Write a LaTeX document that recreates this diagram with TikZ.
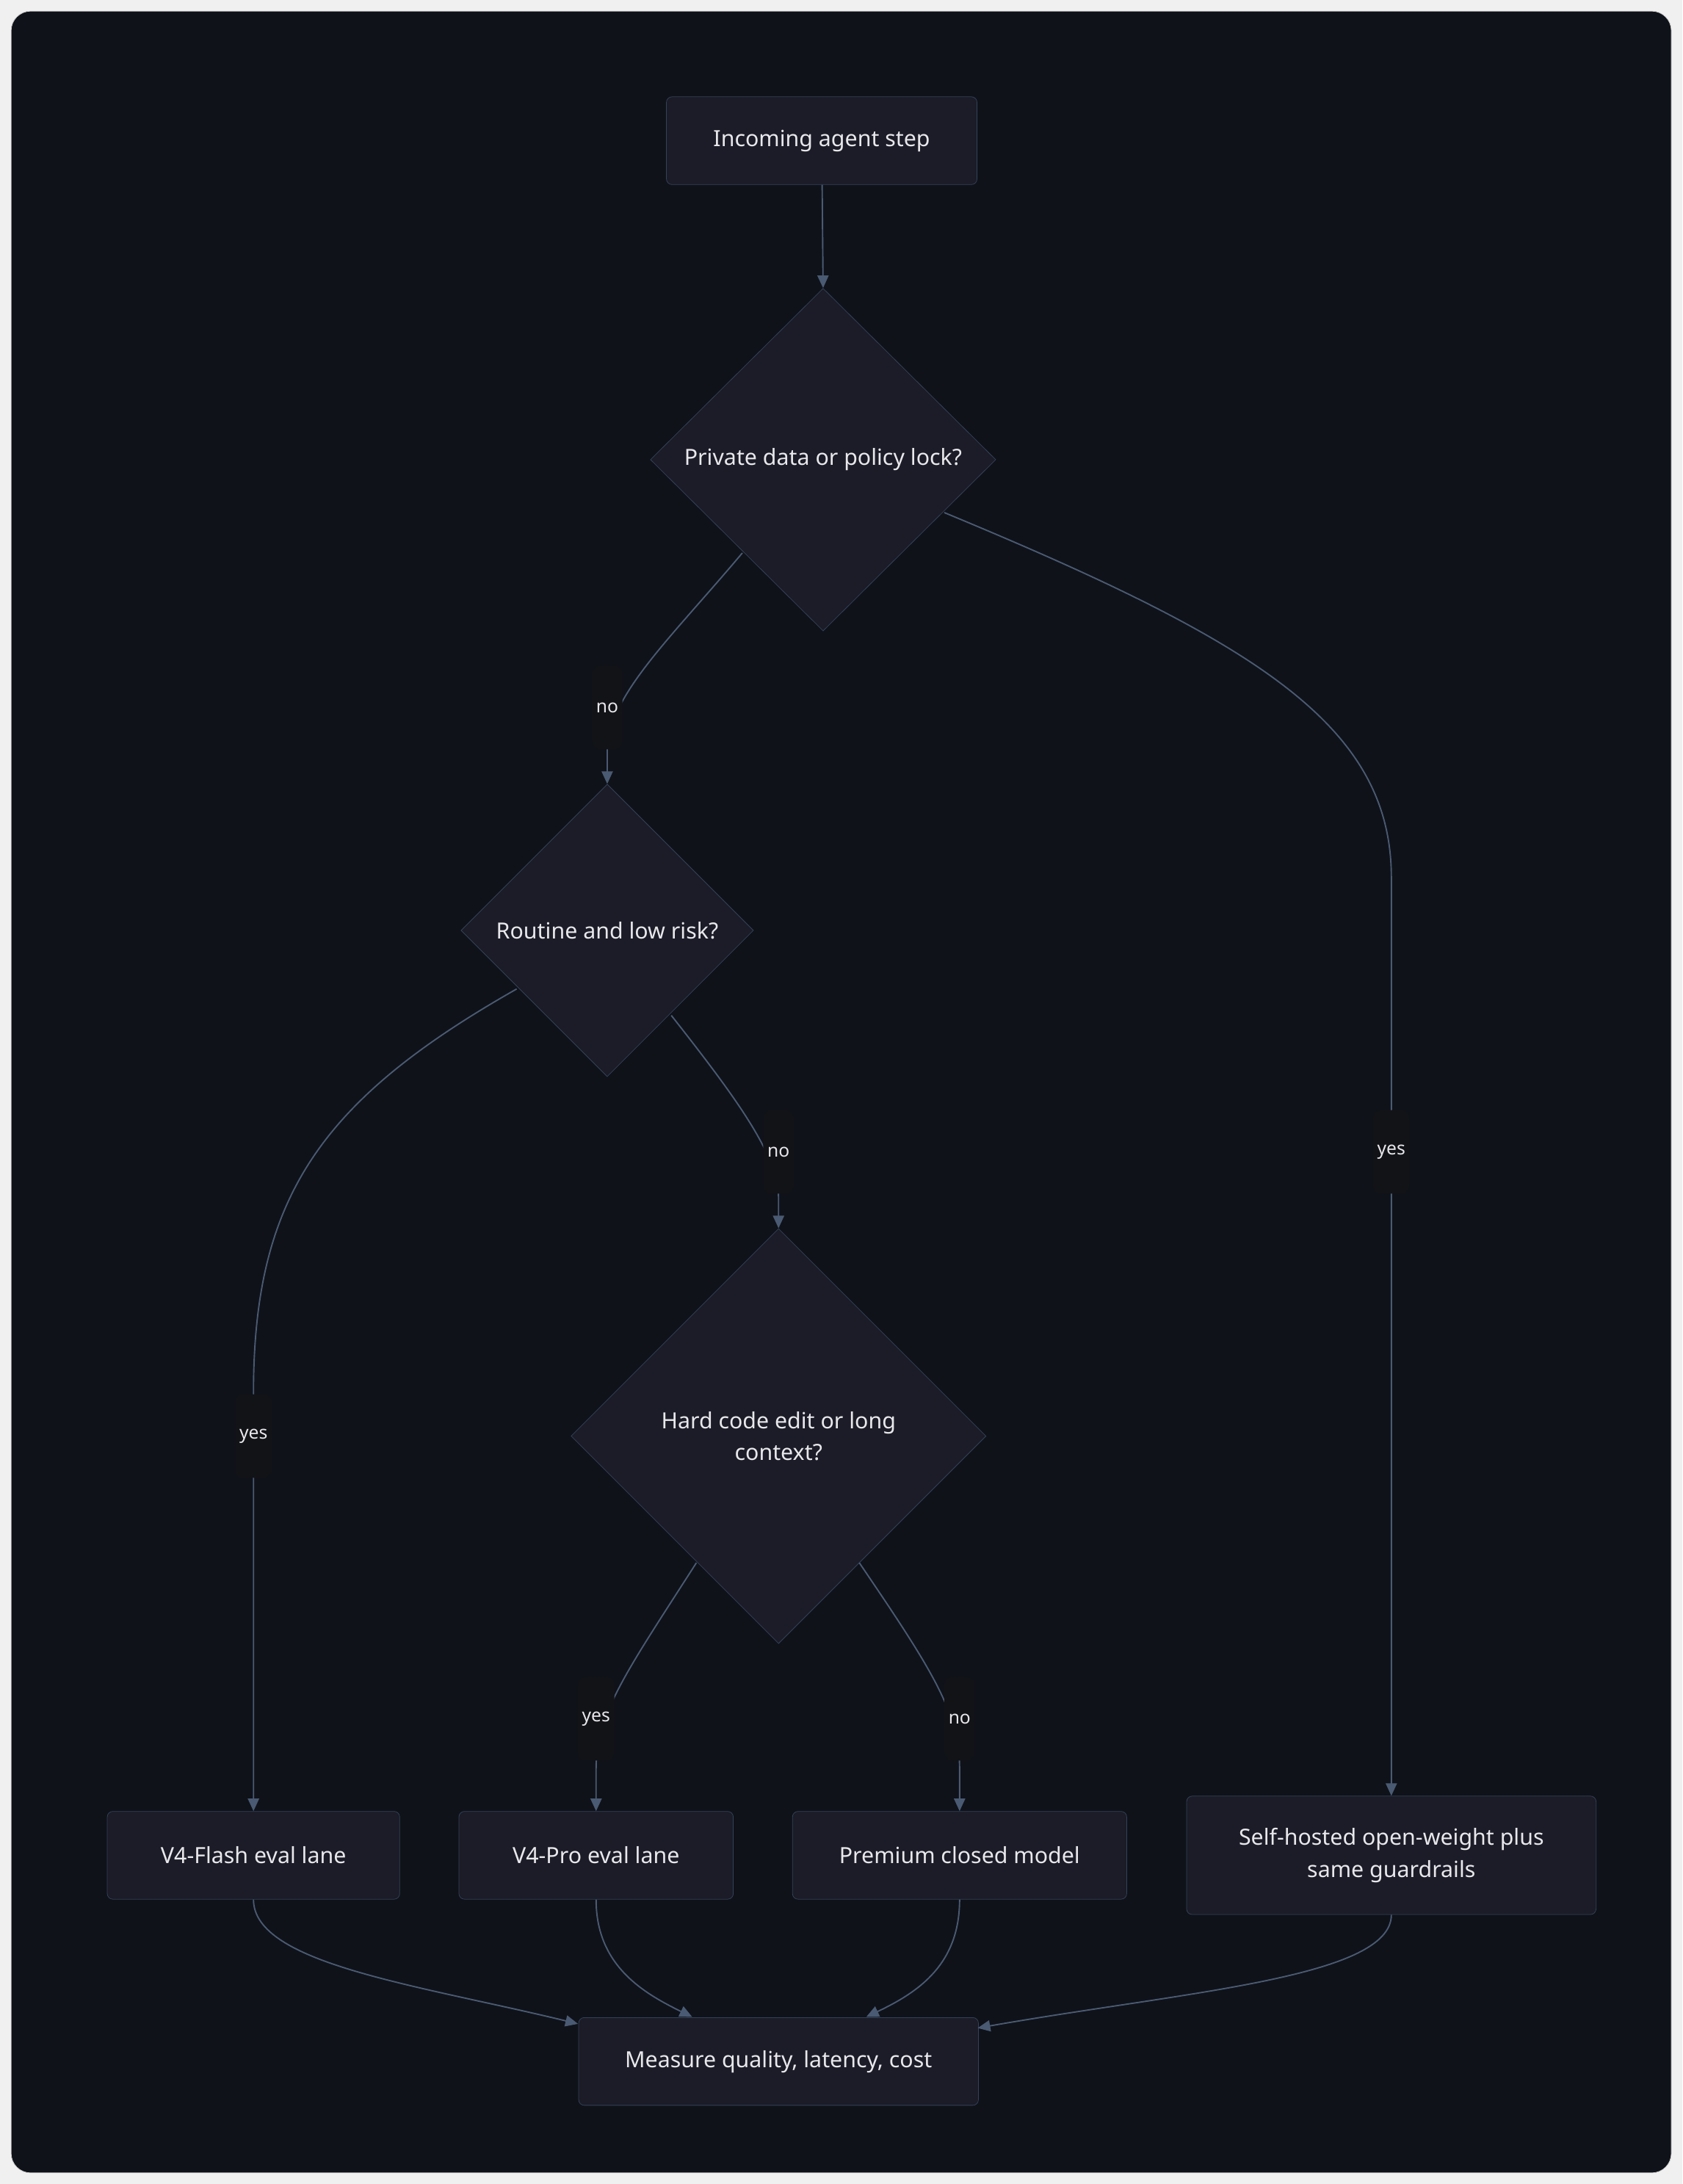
\documentclass[tikz,border=0pt]{standalone}
\usepackage{fontspec}
\setmainfont{Noto Sans}
\usetikzlibrary{shapes.geometric,arrows.meta}
\definecolor{bgdark}{HTML}{0F1219}
\definecolor{nodefill}{HTML}{1B1C27}
\definecolor{nodeline}{HTML}{34425A}
\definecolor{edgecol}{HTML}{4A5A72}
\definecolor{txt}{HTML}{E8E8EC}
\definecolor{lblfill}{HTML}{121317}
\tikzset{
  box/.style={draw=nodeline, fill=nodefill, rounded corners=4pt, text=txt, align=center, font=\fontsize{16}{23}\selectfont},
  decision/.style={diamond, draw=nodeline, fill=nodefill, text=txt, align=center, font=\fontsize{16}{23}\selectfont, inner sep=0pt},
  edge/.style={draw=edgecol, line width=1pt, -{Triangle[length=9pt,width=8pt]}},
  lbl/.style={fill=lblfill, text=txt, rounded corners=6pt, font=\fontsize{13}{15}\selectfont, inner sep=3pt, minimum height=60pt}
}
\begin{document}
\begin{tikzpicture}[x=1pt,y=-1pt]
\useasboundingbox (0,0) rectangle (1208,1568);
\fill[white!94!black] (0,0) rectangle (1208,1568);
\draw[fill=bgdark, draw=white!80!black, rounded corners=14pt] (8,8) rectangle (1200,1560);
% nodes
\node[box, minimum width=223pt, minimum height=63pt] (start) at (590,101) {Incoming agent step};
\node[decision, minimum width=248pt, minimum height=246pt] (priv) at (591,330) {Private data or policy lock?};
\node[decision, minimum width=210pt, minimum height=210pt] (routine) at (436,668) {Routine and low risk?};
\node[decision, minimum width=298pt, minimum height=298pt] (hard) at (559,1031) {Hard code edit or long\\context?};
\node[box, minimum width=210pt, minimum height=63pt] (flash) at (182,1332) {V4-Flash eval lane};
\node[box, minimum width=197pt, minimum height=63pt] (pro) at (428,1332) {V4-Pro eval lane};
\node[box, minimum width=240pt, minimum height=63pt] (premium) at (689,1332) {Premium closed model};
\node[box, minimum width=294pt, minimum height=85pt] (self) at (999,1332) {Self-hosted open-weight plus\\same guardrails};
\node[box, minimum width=287pt, minimum height=63pt] (measure) at (559,1480) {Measure quality, latency, cost};
% labels
\node[lbl] (lno1) at (436,508) {no};
\node[lbl] (lyes1) at (999,827) {yes};
\node[lbl] (lyes2) at (182,1031) {yes};
\node[lbl] (lno2) at (559,827) {no};
\node[lbl] (lyes3) at (428,1234) {yes};
\node[lbl] (lno3) at (689,1234) {no};
% edges
\draw[edge] (start) -- (priv.north);
\draw[edge] (533,397) .. controls (480,460) and (436,500) .. (436,540) -- (routine.north);
\draw[edge] (678,368) .. controls (900,460) and (999,520) .. (999,630) -- (self.north);
\draw[edge] (371,710) .. controls (230,790) and (182,860) .. (182,1000) -- (flash.north);
\draw[edge] (482,729) .. controls (530,790) and (559,830) .. (559,860) -- (hard.north);
\draw[edge] (500,1122) .. controls (450,1200) and (428,1230) .. (428,1270) -- (pro.north);
\draw[edge] (617,1122) .. controls (670,1200) and (689,1230) .. (689,1270) -- (premium.north);
\draw[edge] (flash.south) .. controls (182,1410) and (300,1425) .. (415,1453);
\draw[edge] (pro.south) .. controls (428,1410) and (460,1430) .. (497,1448);
\draw[edge] (premium.south) .. controls (689,1410) and (660,1430) .. (622,1448);
\draw[edge] (self.south) .. controls (999,1420) and (850,1430) .. (702,1456);
\node[lbl] at (436,508) {no};
\node[lbl] at (999,827) {yes};
\node[lbl] at (182,1031) {yes};
\node[lbl] at (559,827) {no};
\node[lbl] at (428,1234) {yes};
\node[lbl] at (689,1234) {no};
\end{tikzpicture}
\end{document}
